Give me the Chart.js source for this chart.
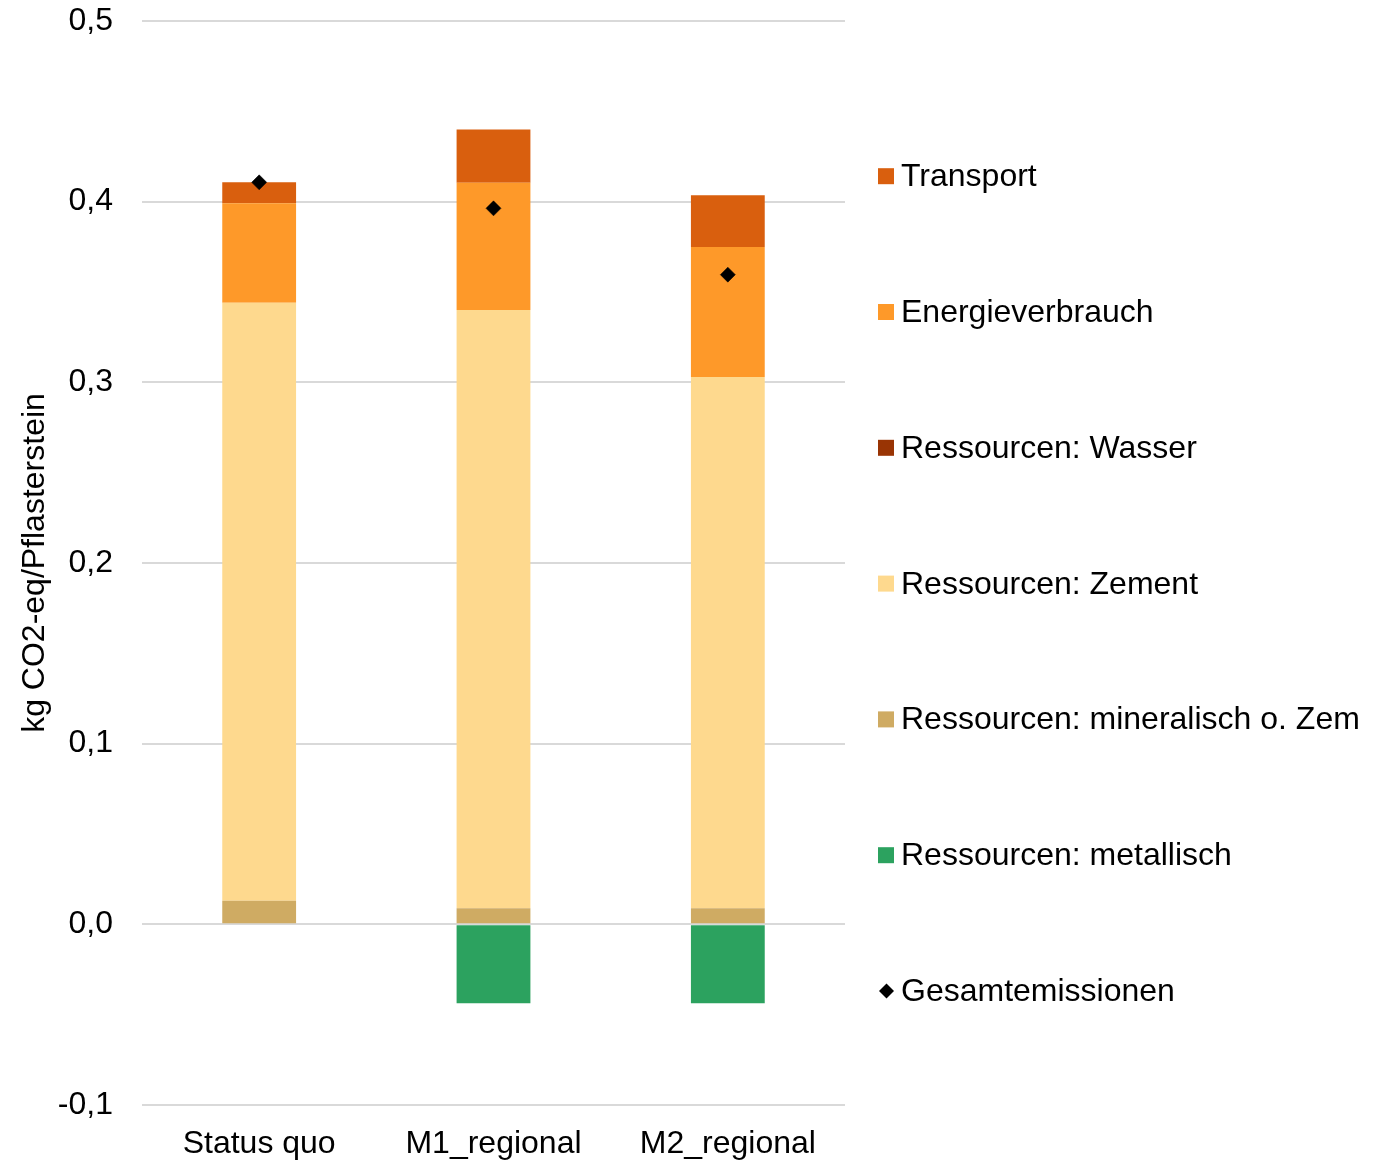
<!DOCTYPE html>
<html lang="de">
<head>
<meta charset="utf-8">
<title>CO2-Emissionen je Pflasterstein</title>
<script src="https://cdn.jsdelivr.net/npm/chart.js@4/dist/chart.umd.min.js"></script>
<style>
  html, body { margin: 0; padding: 0; background: #ffffff; }
  canvas { display: block; }
</style>
</head>
<body>
<canvas id="chart" width="1385" height="1160"></canvas>
<script>
// Szenarien (Kategorien)
const categories = ['Status quo', 'M1_regional', 'M2_regional'];

// Beiträge je Quelle in kg CO2-eq/Pflasterstein
const metallisch   = [0, -0.0437, -0.0437];
const mineralisch  = [0.0131, 0.0089, 0.0089];
const zement       = [0.3309, 0.3311, 0.2941];
const wasser       = [0, 0, 0];
const energie      = [0.0551, 0.0705, 0.0719];
const transport    = [0.0116, 0.0295, 0.0286];
const gesamt       = [0.4107, 0.3963, 0.3596];

// Achse
const yTicks = [-0.1, 0, 0.1, 0.2, 0.3, 0.4, 0.5];
const yTitle = 'kg CO2-eq/Pflasterstein';

const FONT = '"Liberation Sans", Arial, Helvetica, sans-serif';

const barSeries = [
  { label: 'Ressourcen: metallisch',          data: metallisch,  color: '#2ca25f' },
  { label: 'Ressourcen: mineralisch o. Zem',  data: mineralisch, color: '#cfab63' },
  { label: 'Ressourcen: Zement',              data: zement,      color: '#fed98e' },
  { label: 'Ressourcen: Wasser',              data: wasser,      color: '#993404' },
  { label: 'Energieverbrauch',                data: energie,     color: '#fe9929' },
  { label: 'Transport',                       data: transport,   color: '#d95f0e' }
];

const datasets = barSeries.map(s => ({
  type: 'bar',
  label: s.label,
  data: s.data,
  backgroundColor: s.color,
  borderWidth: 0,
  stack: 'quellen',
  order: 1,
  barPercentage: 0.63,
  categoryPercentage: 0.5
}));

datasets.push({
  type: 'line',
  label: 'Gesamtemissionen',
  data: gesamt,
  showLine: false,
  stack: 'gesamt',
  order: 0,
  pointStyle: 'rectRot',
  pointRadius: 7.5,
  pointHoverRadius: 7.5,
  pointBackgroundColor: '#000000',
  pointBorderColor: '#000000',
  pointBorderWidth: 0.5
});

// Legende rechts: Balken von oben nach unten, danach die Gesamtsumme
const sideLegend = {
  id: 'sideLegend',
  afterDraw(chart) {
    const ctx = chart.ctx;
    const all = chart.data.datasets;
    const bars = all.filter(d => d.type === 'bar').reverse();
    const lines = all.filter(d => d.type === 'line');
    const items = bars.concat(lines);
    const boxX = 878, textX = 901, firstY = 176.2, step = 135.8, box = 16;
    ctx.save();
    ctx.font = '32px ' + FONT;
    ctx.textAlign = 'left';
    ctx.textBaseline = 'alphabetic';
    items.forEach((ds, i) => {
      const cy = firstY + i * step;
      if (ds.type === 'line') {
        ctx.fillStyle = ds.pointBackgroundColor;
        const cx = boxX + 8.5, r = 7.5;
        ctx.beginPath();
        ctx.moveTo(cx - r, cy);
        ctx.lineTo(cx, cy - r);
        ctx.lineTo(cx + r, cy);
        ctx.lineTo(cx, cy + r);
        ctx.closePath();
        ctx.fill();
      } else {
        ctx.fillStyle = ds.backgroundColor;
        ctx.fillRect(boxX, cy - box / 2, box, box);
      }
      ctx.fillStyle = '#000000';
      ctx.fillText(ds.label, textX, cy + 10);
    });
    ctx.restore();
  }
};

new Chart(document.getElementById('chart'), {
  data: { labels: categories, datasets },
  options: {
    responsive: false,
    animation: false,
    devicePixelRatio: 1,
    layout: { padding: { top: 21, right: 540, bottom: 0, left: 0 } },
    plugins: {
      legend: { display: false },
      tooltip: { enabled: false }
    },
    scales: {
      x: {
        stacked: true,
        grid: { display: false, drawTicks: false },
        border: { display: false },
        ticks: {
          color: '#000000',
          font: { family: FONT, size: 32 },
          padding: 20,
          maxRotation: 0
        },
        afterFit(scale) { scale.height = 55; }
      },
      y: {
        stacked: true,
        min: yTicks[0],
        max: yTicks[yTicks.length - 1],
        afterBuildTicks(scale) { scale.ticks = yTicks.map(v => ({ value: v })); },
        grid: { color: '#d9d9d9', lineWidth: 2, drawTicks: false },
        border: { display: false },
        ticks: {
          color: '#000000',
          font: { family: FONT, size: 32 },
          padding: 29,
          callback: v => Number(v).toFixed(1).replace('.', ',')
        },
        title: {
          display: true,
          text: yTitle,
          color: '#000000',
          font: { family: FONT, size: 32 },
          padding: { top: 16, bottom: 0 }
        },
        afterFit(scale) {
          scale.width = 142;
          scale.paddingTop = 0;
          scale.paddingBottom = 0;
        }
      }
    }
  },
  plugins: [sideLegend]
});
</script>
</body>
</html>
